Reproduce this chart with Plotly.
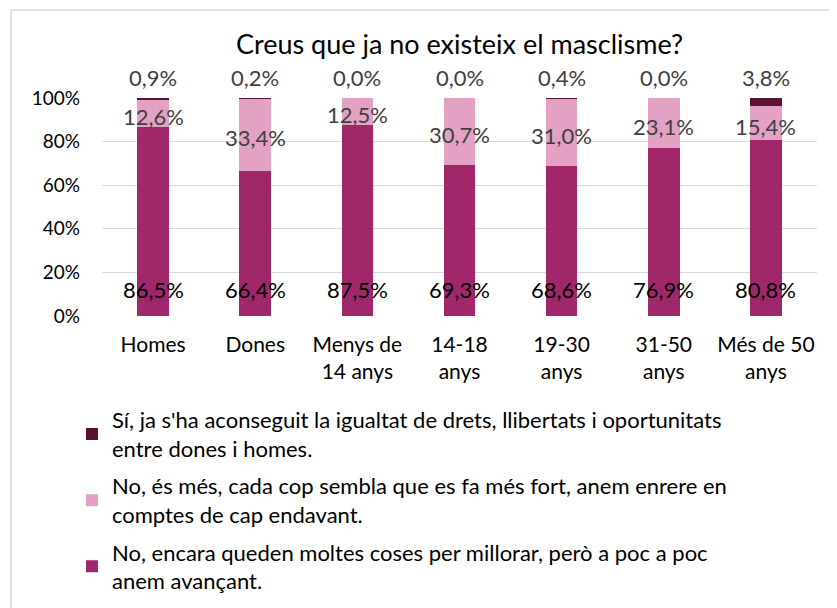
import plotly.graph_objects as go

categories = ["Homes", "Dones", "Menys de<br>14 anys", "14-18<br>anys", "19-30<br>anys", "31-50<br>anys", "Més de 50<br>anys"]
serie_no_millorar = [86.5, 66.4, 87.5, 69.3, 68.6, 76.9, 80.8]
serie_no_enrere = [12.6, 33.4, 12.5, 30.7, 31.0, 23.1, 15.4]
serie_si = [0.9, 0.2, 0.0, 0.0, 0.4, 0.0, 3.8]
names = [
    "No, encara queden moltes coses per millorar, però a poc a poc<br>anem avançant.",
    "No, és més, cada cop sembla que es fa més fort, anem enrere en<br>comptes de cap endavant.",
    "Sí, ja s'ha aconseguit la igualtat de drets, llibertats i oportunitats<br>entre dones i homes.",
]
title = "Creus que ja no existeix el masclisme?"
ytick_vals = [0, 20, 40, 60, 80, 100]
ytick_text = ["0%", "20%", "40%", "60%", "80%", "100%"]

FONT = "Lato"
colors = ["#A0286A", "#E3A1C4", "#5A1233"]

def fmt(v):
    return f"{v:.1f}".replace(".", ",") + "%"

fig = go.Figure()
series = [serie_no_millorar, serie_no_enrere, serie_si]
for i, (vals, name, col) in enumerate(zip(series, names, colors)):
    fig.add_trace(go.Bar(
        x=categories, y=vals, name=name, marker=dict(color=col, line=dict(width=0)),
        width=0.31, legendgroup=f"g{i}", legendrank=1000 - i, hoverinfo="skip",
    ))

annotations = []
for k, cat in enumerate(categories):
    a, b, c = serie_no_millorar[k], serie_no_enrere[k], serie_si[k]
    annotations.append(dict(x=cat, y=0, text=fmt(a), showarrow=False, yanchor="middle",
                            yshift=27, font=dict(family=FONT, size=22, color="#000000")))
    annotations.append(dict(x=cat, y=a + b / 2, text=fmt(b), showarrow=False, yanchor="middle",
                            yshift=-3, font=dict(family=FONT, size=22, color="#404040")))
    annotations.append(dict(x=cat, y=100, text=fmt(c), showarrow=False, yanchor="middle",
                            yshift=21, font=dict(family=FONT, size=22, color="#404040")))

# page has an 8px body margin, so figure is sized to fit the window
W, H = 829, 600
L, R, T, B = 94, 20, 90, 292
pw, ph = W - L - R, H - T - B
shapes = [dict(type="rect", xref="paper", yref="paper",
               x0=(3 - L) / pw, x1=(822 - L) / pw,
               y0=-(B + 10) / ph, y1=1 + (T - 2) / ph,
               line=dict(color="#D9D9D9", width=1.5), fillcolor="rgba(0,0,0,0)", layer="below")]

fig.update_layout(
    barmode="stack",
    width=W, height=H,
    margin=dict(l=L, r=R, t=T, b=B, autoexpand=False),
    paper_bgcolor="white", plot_bgcolor="white",
    font=dict(family=FONT, size=21, color="#000000"),
    title=dict(text=title, x=0.5, xref="paper", xanchor="center", y=1 - 37 / H, yanchor="middle",
               font=dict(family=FONT, size=27, color="#000000")),
    xaxis=dict(showgrid=False, showline=False, ticks="", tickfont=dict(size=21),
               ticklabelstandoff=14),
    yaxis=dict(range=[0, 100], tickvals=ytick_vals, ticktext=ytick_text, showgrid=True,
               gridcolor="#D9D9D9", gridwidth=1, zeroline=False, showline=False,
               tickfont=dict(size=19), ticklabelstandoff=21),
    legend=dict(orientation="v", traceorder="grouped", x=-0.042, xanchor="left",
                y=-0.38, yanchor="top", font=dict(size=22), tracegroupgap=6,
                itemwidth=30),
    annotations=annotations,
    shapes=shapes,
    showlegend=True,
)

fig.write_html("out.html")
